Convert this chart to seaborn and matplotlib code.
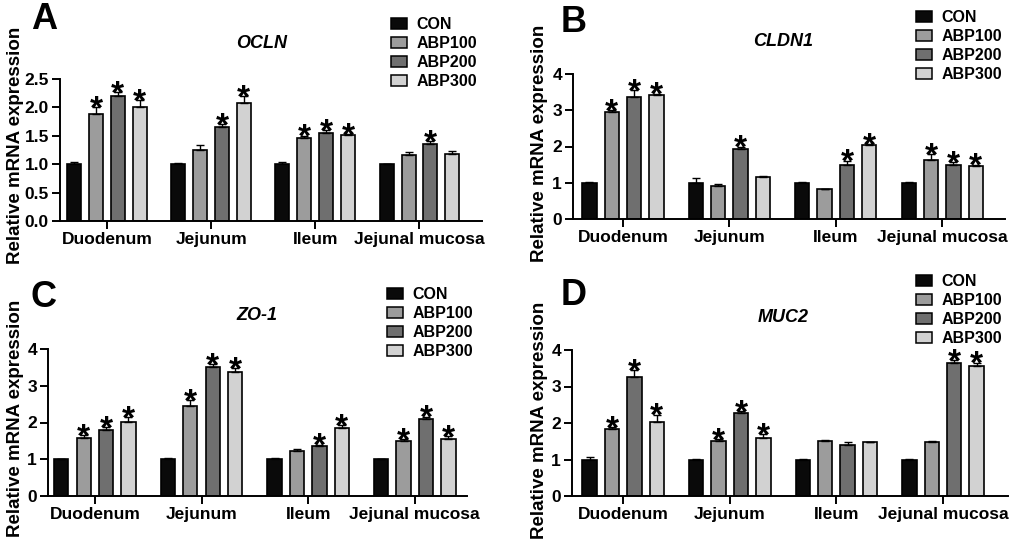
import matplotlib
matplotlib.use("Agg")
import matplotlib.pyplot as plt
import pandas as pd
import seaborn as sns

sns.set_style("ticks")
plt.rcParams['font.family'] = ['Liberation Sans', 'DejaVu Sans']
plt.rcParams['font.weight'] = 'bold'
for key in ['text.color', 'axes.labelcolor', 'xtick.color', 'ytick.color', 'axes.edgecolor']:
    plt.rcParams[key] = 'black'

tissues = ['Duodenum', 'Jejunum', 'Ileum', 'Jejunal mucosa']
groups = ['CON', 'ABP100', 'ABP200', 'ABP300']
colors = ['#0a0a0a', '#9c9c9c', '#6f6f6f', '#d2d2d2']

# mean per tissue: [CON, ABP100, ABP200, ABP300]
ocln_mean = [[1.0, 1.89, 2.20, 2.00], [1.0, 1.25, 1.65, 2.08], [1.0, 1.46, 1.55, 1.51], [1.0, 1.16, 1.36, 1.18]]
ocln_err = [[0.03, 0.11, 0.07, 0.13], [0.02, 0.08, 0.05, 0.12], [0.03, 0.04, 0.05, 0.02], [0.01, 0.06, 0.04, 0.05]]
ocln_sig = [[0, 1, 1, 1], [0, 0, 1, 1], [0, 1, 1, 1], [0, 0, 1, 0]]

cldn1_mean = [[1.0, 2.96, 3.36, 3.41], [1.0, 0.90, 1.92, 1.17], [1.0, 0.82, 1.48, 2.03], [1.0, 1.64, 1.50, 1.46]]
cldn1_err = [[0.01, 0.04, 0.19, 0.04], [0.12, 0.06, 0.07, 0.02], [0.03, 0.01, 0.13, 0.03], [0.01, 0.14, 0.06, 0.04]]
cldn1_sig = [[0, 1, 1, 1], [0, 0, 1, 0], [0, 0, 1, 1], [0, 1, 1, 1]]

zo1_mean = [[1.0, 1.59, 1.80, 2.02], [1.0, 2.45, 3.51, 3.37], [1.0, 1.22, 1.37, 1.85], [1.0, 1.51, 2.09, 1.56]]
zo1_err = [[0.01, 0.07, 0.07, 0.13], [0.03, 0.16, 0.07, 0.10], [0.03, 0.05, 0.03, 0.07], [0.01, 0.04, 0.07, 0.07]]
zo1_sig = [[0, 1, 1, 1], [0, 1, 1, 1], [0, 0, 1, 1], [0, 1, 1, 1]]

muc2_mean = [[1.0, 1.84, 3.27, 2.04], [1.0, 1.52, 2.27, 1.60], [1.0, 1.51, 1.39, 1.47], [1.0, 1.48, 3.64, 3.57]]
muc2_err = [[0.07, 0.05, 0.17, 0.19], [0.01, 0.04, 0.05, 0.09], [0.02, 0.03, 0.10, 0.02], [0.01, 0.02, 0.08, 0.08]]
muc2_sig = [[0, 1, 1, 1], [0, 1, 1, 1], [0, 0, 0, 0], [0, 0, 1, 1]]

W, H = 1013, 544
fig = plt.figure(figsize=(W / 100, H / 100), dpi=100)

# letter, gene, data, axes box px (l, t, r, b), xlim, ylim, yticks, legend (x, y), title (x, y), ylabel (x, y), letter (x, y)
panels = [
    ('A', 'OCLN', ocln_mean, ocln_err, ocln_sig, (60, 79, 482, 221), (-0.45, 3.6), 2.5, [0, 0.5, 1.0, 1.5, 2.0, 2.5],
     (391, 17), (262, 43), (16, 145), (31, 2)),
    ('B', 'CLDN1', cldn1_mean, cldn1_err, cldn1_sig, (573, 74, 1005, 219), (-0.47, 3.59), 4, [0, 1, 2, 3, 4],
     (916, 10), (783, 42), (539, 143), (561, 5)),
    ('C', 'ZO-1', zo1_mean, zo1_err, zo1_sig, (48, 349, 467, 496), (-0.44, 3.49), 4, [0, 1, 2, 3, 4],
     (387, 287), (257, 315), (16, 418), (31, 280)),
    ('D', 'MUC2', muc2_mean, muc2_err, muc2_sig, (572, 350, 1008, 496), (-0.48, 3.61), 4, [0, 1, 2, 3, 4],
     (916, 274), (783, 317), (539, 420), (561, 278)),
]

for letter, gene, mean, err, sig, box, xlim, ytop, yticks, legxy, titxy, ylabxy, letxy in panels:
    l, t, r, b = box
    ax = fig.add_axes([l / W, 1 - b / H, (r - l) / W, (b - t) / H])
    rows = []
    for i, tis in enumerate(tissues):
        for j, g in enumerate(groups):
            rows.append({'tissue': tis, 'group': g, 'value': mean[i][j]})
    df = pd.DataFrame(rows)
    sns.barplot(data=df, x='tissue', y='value', hue='group', palette=colors, saturation=1,
                width=0.84, gap=0.36, edgecolor='black', linewidth=1.2, errorbar=None, ax=ax)

    bar_sets = list(ax.containers)
    for j, cont in enumerate(bar_sets):
        for i, bar in enumerate(cont):
            x = bar.get_x() + bar.get_width() / 2
            top = mean[i][j] + err[i][j]
            ax.errorbar(x, mean[i][j], yerr=[[0], [err[i][j]]], color='black',
                        elinewidth=1.0, capsize=3, capthick=1.0, zorder=1)
            if sig[i][j]:
                ax.annotate('*', xy=(x, top), xytext=(0, -8), textcoords='offset points',
                            ha='center', va='baseline', fontsize=24, fontweight='bold',
                            color='black')

    ax.set_xlim(*xlim)
    ax.set_ylim(0, ytop)
    ax.set_yticks(yticks)
    if ytop == 2.5:
        ax.set_yticklabels([f'{v:.1f}' for v in yticks])
    ax.set_xlabel('')
    ax.set_ylabel('')
    sns.despine(ax=ax)
    for s in ['left', 'bottom']:
        ax.spines[s].set_linewidth(1.4)
    ax.tick_params(axis='both', direction='out', length=5.5, width=1.4, labelsize=12.5, pad=2.5)
    for lab in ax.get_xticklabels() + ax.get_yticklabels():
        lab.set_fontweight('bold')

    leg = ax.legend(loc='upper left', bbox_to_anchor=(legxy[0] / W, 1 - legxy[1] / H),
                    bbox_transform=fig.transFigure, frameon=False,
                    prop={'weight': 'bold', 'size': 11.5}, handlelength=1.0, handleheight=0.75,
                    labelspacing=0.25, handletextpad=0.6, borderpad=0, borderaxespad=0)
    for h in leg.legend_handles:
        h.set_edgecolor('black')
        h.set_linewidth(1.1)

    fig.text(titxy[0] / W, 1 - titxy[1] / H, gene, ha='center', va='center',
             fontsize=13, fontweight='bold', style='italic')
    fig.text(ylabxy[0] / W, 1 - ylabxy[1] / H, 'Relative mRNA expression', rotation=90,
             ha='center', va='center', fontsize=13.5, fontweight='bold')
    fig.text(letxy[0] / W, 1 - letxy[1] / H, letter, ha='left', va='top',
             fontsize=26, fontweight='bold')

fig.savefig('out.png', dpi=100)
